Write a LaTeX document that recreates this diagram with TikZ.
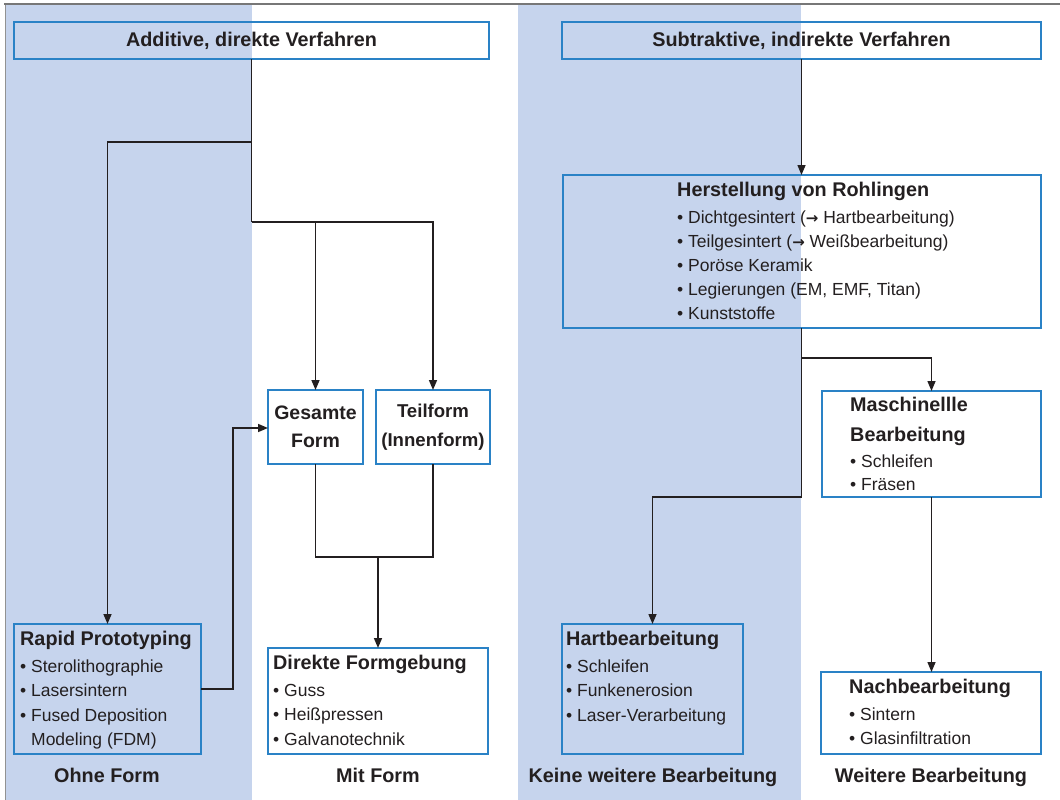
\documentclass[tikz,border=0pt]{standalone}
\usepackage{fontspec}
\setmainfont{Liberation Sans}
\newfontfamily\symfont{DejaVu Sans}
\usetikzlibrary{arrows.meta}
\definecolor{band}{HTML}{C6D4ED}
\definecolor{boxblue}{HTML}{2A82C6}
\definecolor{ink}{HTML}{231F20}
\definecolor{framegray}{HTML}{777777}
\newcommand\hd{\fontsize{19.8}{24}\selectfont\bfseries}
\newcommand\bd{\fontsize{17.5}{24}\selectfont}
\newcommand\bl{\textbullet\ }
\newcommand\rarr{{\symfont\fontsize{15}{24}\selectfont\bfseries →}}
\begin{document}
\begin{tikzpicture}[x=1pt,y=-1pt,
  box/.style={draw=boxblue,line width=1.4pt,inner sep=0pt,outer sep=0pt,anchor=north west,text=ink},
  line/.style={draw=ink,line width=1.5pt},
  arr/.style={line,-{Triangle[length=10pt,width=8pt]}},
  hl/.style={anchor=base west,inner sep=0pt,text=ink,font=\hd},
  ln/.style={anchor=base west,inner sep=0pt,text=ink,font=\bd},
  lab/.style={anchor=base,inner sep=0pt,font=\hd,text=ink}]
\useasboundingbox (0,0) rectangle (1060,800);
% bands and frame
\fill[band] (5,4) rectangle (251.5,800);
\fill[band] (518,4) rectangle (801,800);
\draw[framegray!80,line width=1pt] (5,800) -- (5,4);
\draw[framegray,line width=2pt] (4,4) -- (1060,4);

% boxes
\node[box,minimum width=475pt,minimum height=37pt,font=\hd] (add) at (14,22) {Additive, direkte Verfahren};
\node[box,minimum width=479pt,minimum height=37pt,font=\hd] (sub) at (562,22) {Subtraktive, indirekte Verfahren};
\node[box,minimum width=187pt,minimum height=130pt] (rp) at (14,624) {};
\node[box,minimum width=220pt,minimum height=106pt] (df) at (268,648) {};
\node[box,minimum width=95pt,minimum height=74pt,align=center,font={\fontsize{19.5}{28.5}\selectfont\bfseries}] (gf) at (268,390) {Gesamte\\Form};
\node[box,minimum width=114pt,minimum height=74pt,align=center,font={\fontsize{18.6}{28.5}\selectfont\bfseries}] (tf) at (376,390) {Teilform\\(Innenform)};
\node[box,minimum width=478pt,minimum height=153pt] (her) at (563,175) {};
\node[box,minimum width=219pt,minimum height=106pt] (mas) at (822,391) {};
\node[box,minimum width=181pt,minimum height=130pt] (hart) at (562,624) {};
\node[box,minimum width=220pt,minimum height=82pt] (nach) at (821,672) {};

% texts in boxes
\node[hl] (rp0) at (20,645.5) {Rapid Prototyping};
\node[ln] (rp1) at (20,672) {\bl Sterolithographie};
\node[ln] (rp2) at (20,696.5) {\bl Lasersintern};
\node[ln] (rp3) at (20,721) {\bl Fused Deposition};
\node[ln] (rp4) at (20,745) {\phantom{\bl}Modeling (FDM)};

\node[hl] (df0) at (273,669) {Direkte Formgebung};
\node[ln] (df1) at (273,696) {\bl Guss};
\node[ln] (df2) at (273,720.5) {\bl Heißpressen};
\node[ln] (df3) at (273,745) {\bl Galvanotechnik};

\node[hl] (he0) at (677,196) {Herstellung von Rohlingen};
\node[ln] (he1) at (677,223) {\bl Dichtgesintert (\rarr\ Hartbearbeitung)};
\node[ln] (he2) at (677,247) {\bl Teilgesintert (\rarr\ Weißbearbeitung)};
\node[ln] (he3) at (677,271) {\bl Poröse Keramik};
\node[ln] (he4) at (677,295) {\bl Legierungen (EM, EMF, Titan)};
\node[ln] (he5) at (677,319) {\bl Kunststoffe};

\node[hl] (ma0) at (850,411) {Maschinellle};
\node[hl] (ma1) at (850,441) {Bearbeitung};
\node[ln] (ma2) at (850,467) {\bl Schleifen};
\node[ln] (ma3) at (850,490) {\bl Fräsen};

\node[hl] (ha0) at (566,645.5) {Hartbearbeitung};
\node[ln] (ha1) at (566,672) {\bl Schleifen};
\node[ln] (ha2) at (566,696.5) {\bl Funkenerosion};
\node[ln] (ha3) at (566,721) {\bl Laser-Verarbeitung};

\node[hl] (na0) at (849,693) {Nachbearbeitung};
\node[ln] (na1) at (849,720) {\bl Sintern};
\node[ln] (na2) at (849,744.5) {\bl Glasinfiltration};

% bottom labels
\node[lab] (l1) at (107,782) {Ohne Form};
\node[lab] (l2) at (378,782) {Mit Form};
\node[lab] (l3) at (653,782) {Keine weitere Bearbeitung};
\node[lab] (l4) at (931,782) {Weitere Bearbeitung};

% connectors left
\coordinate (sA) at (251.5,142);
\coordinate (sB) at (251.5,222);
\coordinate (rpy) at (0,689);
\coordinate (k1) at (233,428);
\coordinate (m) at (378,557);
\draw[line] (add.south) -- (sB);
\draw[arr] (sA) -| (rp.north);
\draw[arr] (sB) -| (tf.north);
\draw[arr] (sB -| gf.north) -- (gf.north);
\draw[arr] (rp.east |- rpy) -| (k1) -- (gf.west |- k1);
\draw[line] (gf.south) |- (m) -| (tf.south);
\draw[arr] (m) -- (df.north);

% connectors right
\coordinate (r1) at (801.5,358);
\coordinate (r2) at (801.5,497);
\draw[arr] (sub.south) -- (sub.south |- her.north);
\draw[line] (r1 |- her.south) -- (r2);
\draw[arr] (r1) -| (mas.north);
\draw[arr] (r2) -| (hart.north);
\draw[arr] (mas.south) -- (mas.south |- nach.north);
\end{tikzpicture}
\end{document}
